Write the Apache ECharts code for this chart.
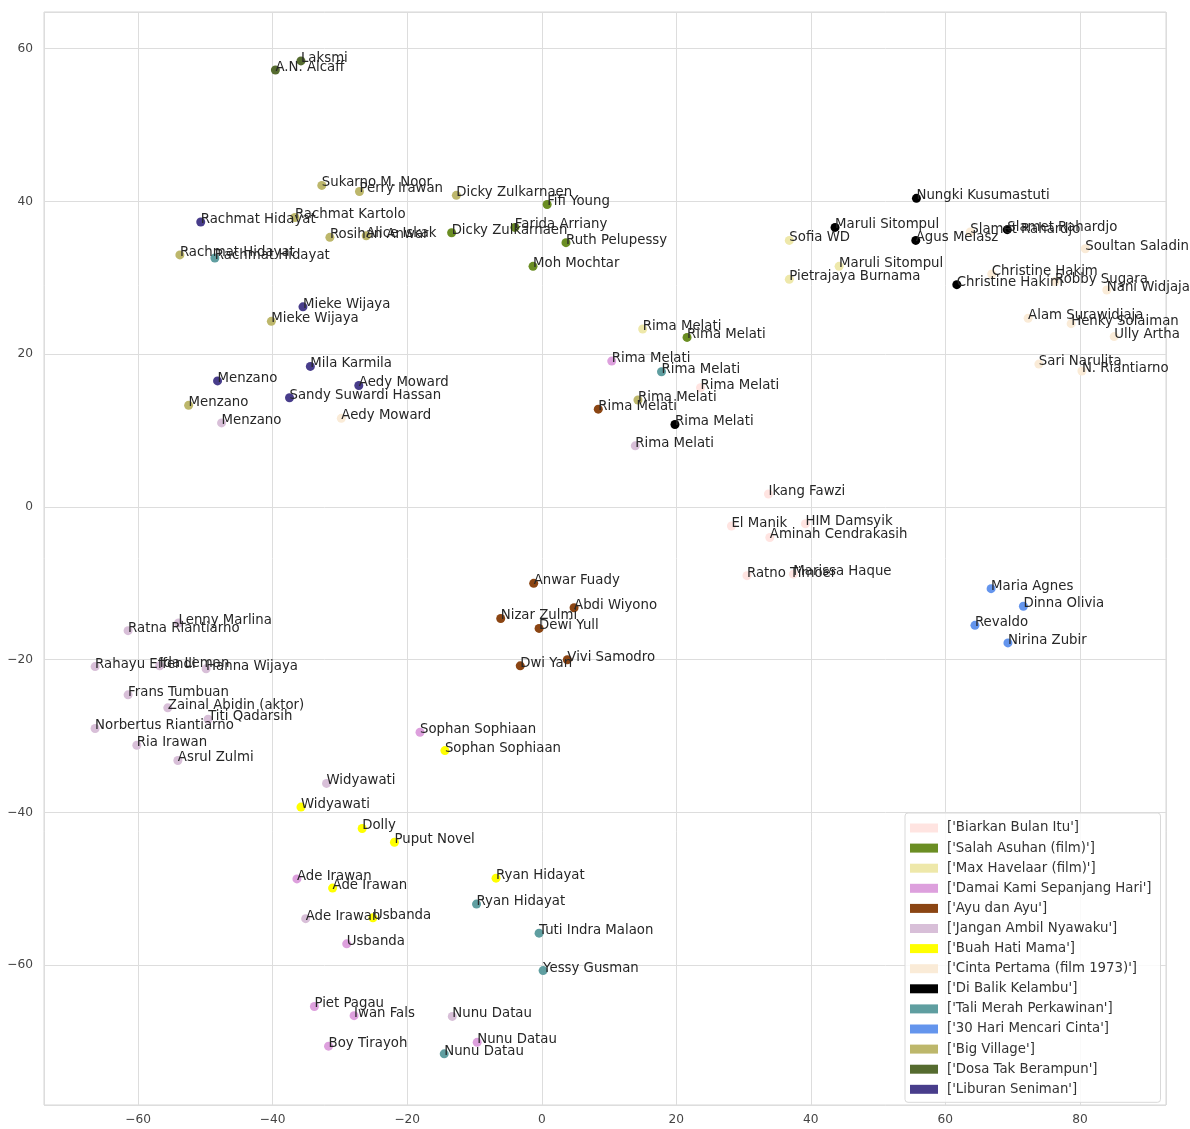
<!DOCTYPE html>
<html>
<head>
<meta charset="utf-8">
<script src="https://cdn.jsdelivr.net/npm/echarts@6/dist/echarts.min.js"></script>
<style>
  html, body { margin: 0; padding: 0; background: #ffffff; }
  #chart { width: 1190px; height: 1129px; }
</style>
</head>
<body>
<div id="chart"></div>
<script>
// ---- Data ----
const films = [
  "['Biarkan Bulan Itu']",
  "['Salah Asuhan (film)']",
  "['Max Havelaar (film)']",
  "['Damai Kami Sepanjang Hari']",
  "['Ayu dan Ayu']",
  "['Jangan Ambil Nyawaku']",
  "['Buah Hati Mama']",
  "['Cinta Pertama (film 1973)']",
  "['Di Balik Kelambu']",
  "['Tali Merah Perkawinan']",
  "['30 Hari Mencari Cinta']",
  "['Big Village']",
  "['Dosa Tak Berampun']",
  "['Liburan Seniman']"
];

const biarkanBulanItu = [
  ["Rima Melati", 23.6, 15.6],
  ["Ikang Fawzi", 33.7, 1.7],
  ["El Manik", 28.2, -2.5],
  ["HIM Damsyik", 39.2, -2.2],
  ["Aminah Cendrakasih", 33.9, -4.0],
  ["Ratno Timoer", 30.5, -9.0],
  ["Marissa Haque", 37.4, -8.8]
];
const salahAsuhan = [
  ["Dicky Zulkarnaen", -13.4, 35.9],
  ["Fifi Young", 0.8, 39.6],
  ["Farida Arriany", -4.0, 36.6],
  ["Ruth Pelupessy", 3.6, 34.6],
  ["Moh Mochtar", -1.3, 31.5],
  ["Rima Melati", 21.6, 22.2]
];
const maxHavelaar = [
  ["Rima Melati", 15.0, 23.3],
  ["Sofia WD", 36.8, 34.9],
  ["Pietrajaya Burnama", 36.8, 29.8],
  ["Maruli Sitompul", 44.2, 31.5]
];
const damaiKami = [
  ["Rima Melati", 10.4, 19.1],
  ["Sophan Sophiaan", -18.1, -29.5],
  ["Ade Irawan", -36.4, -48.7],
  ["Usbanda", -29.0, -57.2],
  ["Piet Pagau", -33.8, -65.4],
  ["Iwan Fals", -27.9, -66.6],
  ["Boy Tirayoh", -31.7, -70.6],
  ["Nunu Datau", -9.6, -70.1]
];
const ayuDanAyu = [
  ["Rima Melati", 8.4, 12.8],
  ["Anwar Fuady", -1.2, -10.0],
  ["Abdi Wiyono", 4.8, -13.2],
  ["Nizar Zulmi", -6.1, -14.6],
  ["Dewi Yull", -0.4, -15.9],
  ["Dwi Yan", -3.2, -20.8],
  ["Vivi Samodro", 3.8, -20.0]
];
const janganAmbil = [
  ["Menzano", -47.6, 11.0],
  ["Rima Melati", 13.9, 8.0],
  ["Lenny Marlina", -54.0, -15.2],
  ["Ratna Riantiarno", -61.5, -16.2],
  ["Rahayu Effendi", -66.4, -20.9],
  ["Ida Leman", -56.8, -20.8],
  ["Hanna Wijaya", -49.9, -21.2],
  ["Frans Tumbuan", -61.5, -24.6],
  ["Zainal Abidin (aktor)", -55.6, -26.3],
  ["Titi Qadarsih", -49.6, -27.8],
  ["Norbertus Riantiarno", -66.4, -29.0],
  ["Ria Irawan", -60.2, -31.2],
  ["Asrul Zulmi", -54.1, -33.2],
  ["Widyawati", -32.0, -36.2],
  ["Ade Irawan", -35.1, -53.9],
  ["Nunu Datau", -13.3, -66.7]
];
const buahHatiMama = [
  ["Sophan Sophiaan", -14.4, -31.9],
  ["Widyawati", -35.8, -39.3],
  ["Dolly", -26.7, -42.1],
  ["Puput Novel", -21.9, -43.9],
  ["Ade Irawan", -31.1, -49.9],
  ["Usbanda", -25.1, -53.8],
  ["Ryan Hidayat", -6.8, -48.6]
];
const cintaPertama = [
  ["Aedy Moward", -29.8, 11.6],
  ["Slamet Rahardjo", 63.7, 36.0],
  ["Soultan Saladin", 80.8, 33.8],
  ["Christine Hakim", 66.9, 30.5],
  ["Robby Sugara", 76.3, 29.5],
  ["Nani Widjaja", 84.0, 28.4],
  ["Alam Surawidjaja", 72.3, 24.7],
  ["Henky Solaiman", 78.7, 24.0],
  ["Ully Artha", 85.1, 22.3],
  ["Sari Narulita", 73.9, 18.7],
  ["N. Riantiarno", 80.3, 17.8]
];
const diBalikKelambu = [
  ["Rima Melati", 19.8, 10.8],
  ["Maruli Sitompul", 43.6, 36.6],
  ["Nungki Kusumastuti", 55.7, 40.4],
  ["Agus Melasz", 55.6, 34.9],
  ["Slamet Rahardjo", 69.2, 36.3],
  ["Christine Hakim", 61.7, 29.1]
];
const taliMerah = [
  ["Rachmat Hidayat", -48.6, 32.6],
  ["Rima Melati", 17.8, 17.7],
  ["Ryan Hidayat", -9.7, -52.0],
  ["Tuti Indra Malaon", -0.4, -55.8],
  ["Yessy Gusman", 0.2, -60.7],
  ["Nunu Datau", -14.5, -71.6]
];
const tigaPuluhHari = [
  ["Maria Agnes", 66.8, -10.7],
  ["Dinna Olivia", 71.6, -13.0],
  ["Revaldo", 64.4, -15.5],
  ["Nirina Zubir", 69.3, -17.8]
];
const bigVillage = [
  ["Sukarno M. Noor", -32.7, 42.1],
  ["Perry Irawan", -27.1, 41.3],
  ["Dicky Zulkarnaen", -12.7, 40.8],
  ["Rachmat Kartolo", -36.7, 37.9],
  ["Rosihan Anwar", -31.5, 35.3],
  ["Alice Iskak", -26.1, 35.5],
  ["Rachmat Hidayat", -53.8, 33.0],
  ["Mieke Wijaya", -40.2, 24.3],
  ["Menzano", -52.5, 13.3],
  ["Rima Melati", 14.3, 14.0]
];
const dosaTakBerampun = [
  ["Laksmi", -35.8, 58.4],
  ["A.N. Alcaff", -39.6, 57.2]
];
const liburanSeniman = [
  ["Rachmat Hidayat", -50.7, 37.3],
  ["Mieke Wijaya", -35.5, 26.2],
  ["Mila Karmila", -34.4, 18.4],
  ["Menzano", -48.2, 16.5],
  ["Aedy Moward", -27.2, 15.9],
  ["Sandy Suwardi Hassan", -37.5, 14.3]
];

const filmPoints = [
  biarkanBulanItu, salahAsuhan, maxHavelaar, damaiKami, ayuDanAyu,
  janganAmbil, buahHatiMama, cintaPertama, diBalikKelambu, taliMerah,
  tigaPuluhHari, bigVillage, dosaTakBerampun, liburanSeniman
];

// ---- Styles ----
const filmColors = [
  '#ffe4e1', '#6b8e23', '#eee8aa', '#dda0dd', '#8b4513', '#d8bfd8', '#ffff00',
  '#faebd7', '#000000', '#5f9ea0', '#6495ed', '#bdb76b', '#556b2f', '#483d8b'
];
const FONT = 'DejaVu Sans';

const chart = echarts.init(document.getElementById('chart'), null, { renderer: 'canvas' });

const series = films.map((film, i) => ({
  name: film,
  type: 'scatter',
  symbol: 'circle',
  symbolSize: 9,
  itemStyle: { color: filmColors[i], opacity: 1 },
  label: {
    show: true,
    formatter: p => p.data[2],
    position: [4.5, 2],
    align: 'left',
    verticalAlign: 'middle',
    color: '#262626',
    fontFamily: FONT,
    fontSize: 13.3
  },
  labelLayout: { hideOverlap: false },
  emphasis: { disabled: true },
  data: filmPoints[i].map(d => [d[1], d[2], d[0]])
}));

const minusFmt = v => {
  if (Math.abs(v % 20) > 1e-6) return '';
  return String(v).replace('-', '\u2212');
};

chart.setOption({
  animation: false,
  backgroundColor: '#ffffff',
  grid: {
    left: 44, top: 12, width: 1122, height: 1093,
    show: true, borderColor: '#d6d6d6', borderWidth: 1, backgroundColor: '#ffffff'
  },
  xAxis: {
    type: 'value',
    min: -74.0, max: 92.8,
    splitNumber: 8,
    axisLine: { show: false },
    axisTick: { show: false },
    splitLine: { show: true, lineStyle: { color: '#dddddd', width: 1 } },
    axisLabel: {
      formatter: minusFmt, showMinLabel: false, showMaxLabel: false,
      margin: 9, color: '#444444', fontFamily: FONT, fontSize: 12.2
    }
  },
  yAxis: {
    type: 'value',
    min: -78.3, max: 64.8,
    splitNumber: 7,
    axisLine: { show: false },
    axisTick: { show: false },
    splitLine: { show: true, lineStyle: { color: '#dddddd', width: 1 } },
    axisLabel: {
      formatter: minusFmt, showMinLabel: false, showMaxLabel: false,
      margin: 11, color: '#444444', fontFamily: FONT, fontSize: 12.2
    }
  },
  legend: {
    data: films,
    orient: 'vertical',
    left: 905, top: 813,
    icon: 'rect',
    itemWidth: 28, itemHeight: 9,
    itemGap: 6.1,
    padding: [8, 9, 6, 5],
    backgroundColor: 'rgba(255,255,255,0.85)',
    borderColor: '#d9d9d9', borderWidth: 1, borderRadius: 3,
    selectedMode: false,
    textStyle: { color: '#333333', fontFamily: FONT, fontSize: 13.3, lineHeight: 14, padding: [0, 0, 0, 4] }
  },
  series: series
});
</script>
</body>
</html>
